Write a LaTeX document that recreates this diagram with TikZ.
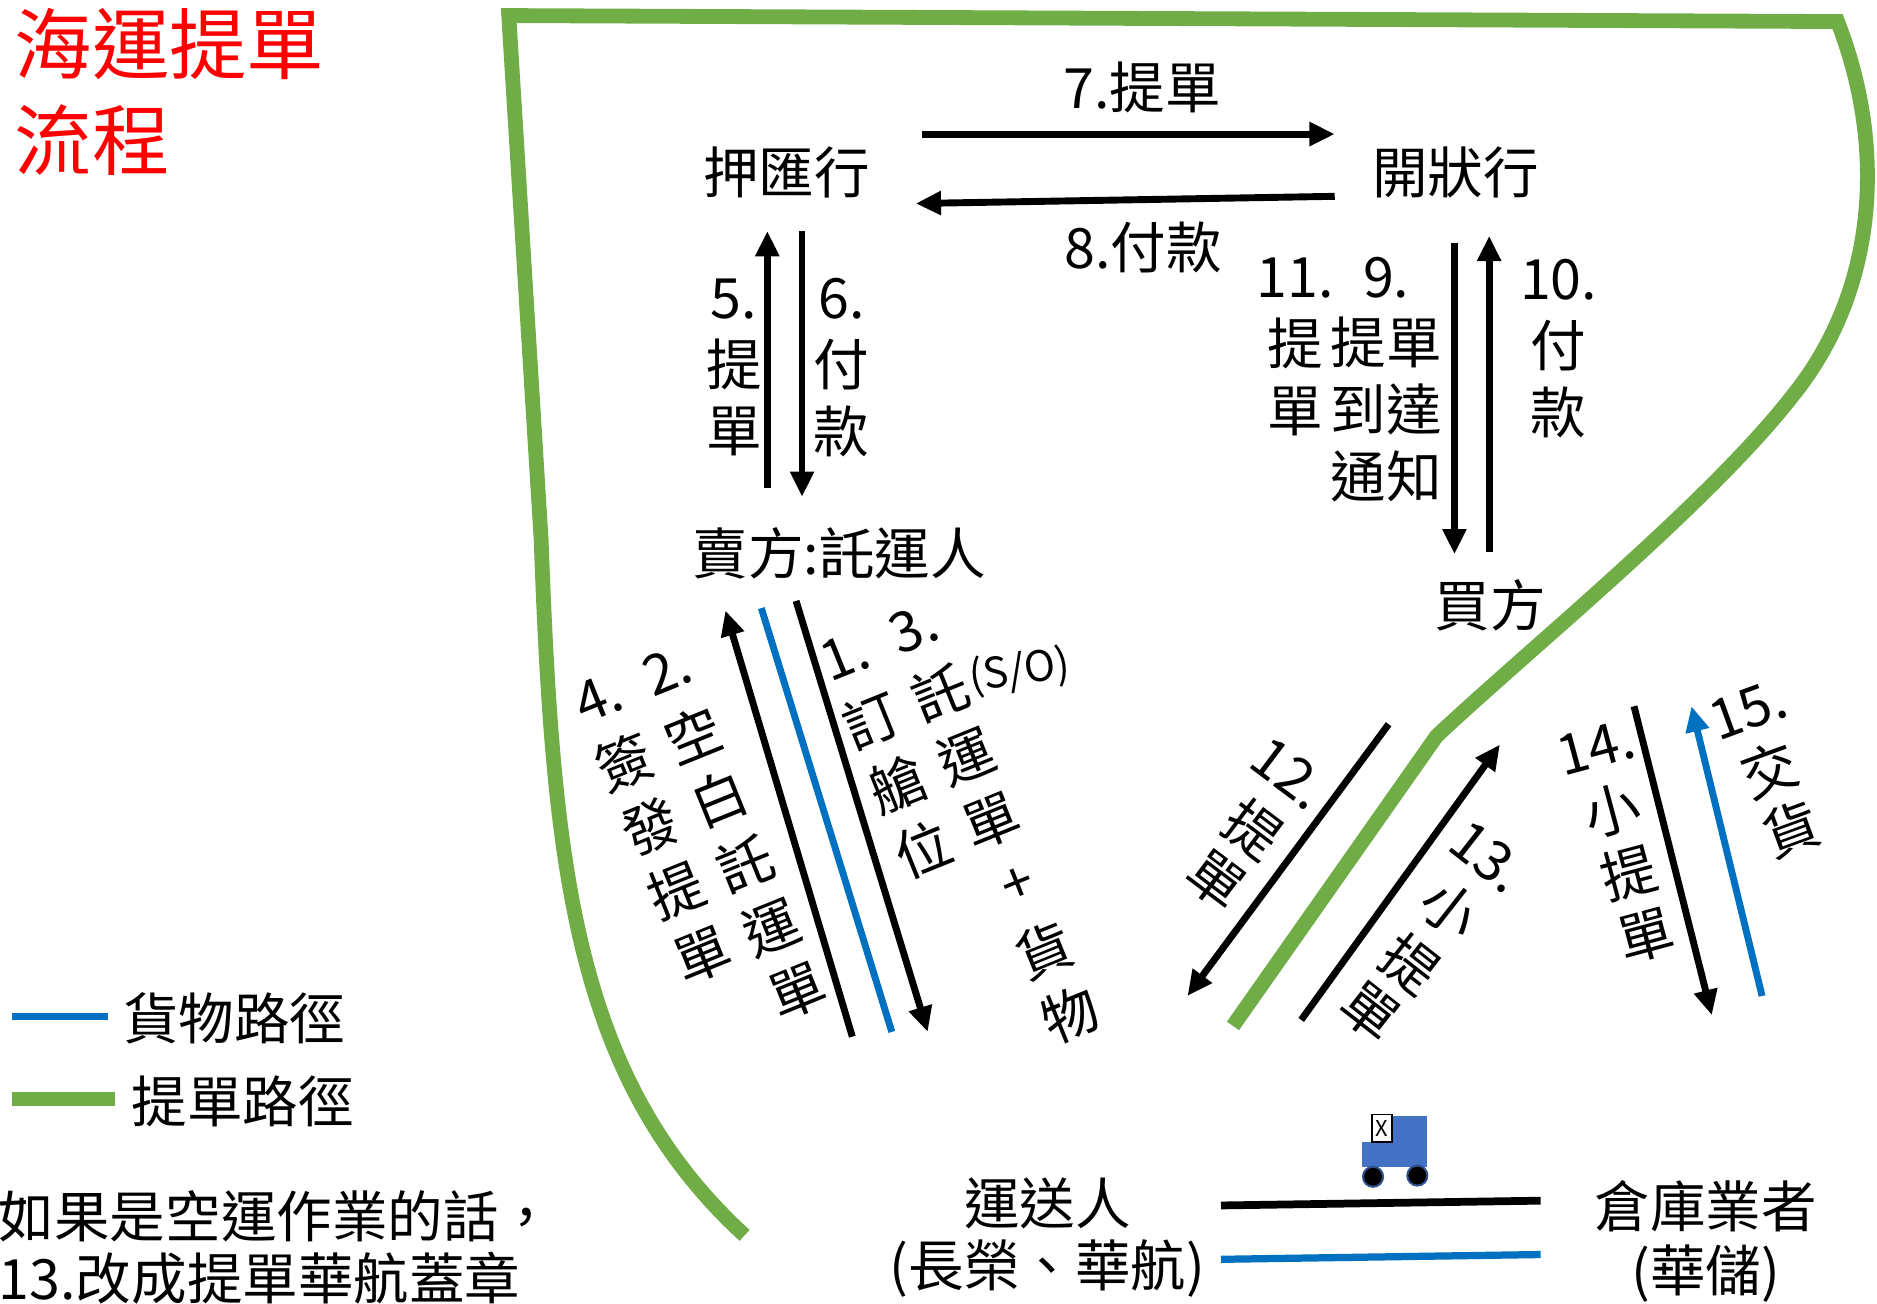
\documentclass[tikz,border=0pt]{standalone}
\usepackage{fontspec}
\setmainfont{Noto Sans CJK TC}
\usetikzlibrary{arrows.meta}
\definecolor{cblue}{HTML}{0070C0}
\definecolor{cgreen}{HTML}{70AD47}
\definecolor{ctruck}{HTML}{4472C4}
\definecolor{cwheel}{HTML}{2F528F}
\begin{document}
\begin{tikzpicture}[x=0.025cm,y=-0.025cm,
  txt/.style={font=\fontsize{33}{39.7}\selectfont, inner sep=0pt, outer sep=0pt, align=center},
  ttl/.style={font=\fontsize{46}{56}\selectfont, text=red, inner sep=0pt, anchor=west},
  arr/.style={line width=4.1pt, -{Triangle[length=15pt,width=13.5pt]}},
  bluearr/.style={cblue, line width=4.1pt, -{Triangle[length=15pt,width=13.5pt]}},
  blueline/.style={cblue, line width=4.1pt},
  greenpath/.style={cgreen, line width=8.8pt},
]
\useasboundingbox (0,0) rectangle (1568,1089.3);
\clip (0,0) rectangle (1568,1089.3);

% title
\node[ttl] (title1) at (12,37) {海運提單};
\node[ttl] (title2) at (12,117) {流程};

% green B/L path
\draw[greenpath] (622,1032) .. controls (478,900) and (462,720) .. (452,450) -- (425,13) -- (1535,18)
  .. controls (1575,120) and (1570,240) .. (1498,330) .. controls (1428,420) and (1280,540) .. (1200,615) -- (1030,857);

% main nodes
\node[txt] (yahui) at (657,144) {押匯行};
\node[txt] (kaizhuang) at (1216,144) {開狀行};
\node[txt] (seller) at (701,462) {賣方:託運人};
\node[txt] (buyer) at (1245,506) {買方};
\node[txt] (l7) at (954,73) {7.提單};
\node[txt] (l8) at (955,207) {8.付款};
\node[txt] (l5) at (613,307) {5.\\提\\單};
\node[txt] (l6) at (703,307) {6.\\付\\款};
\node[txt] (l11) at (1082,290) {11.\\提\\單};
\node[txt] (l9) at (1158,317) {9.\\提單\\到達\\通知};
\node[txt] (l10) at (1302,291) {10.\\付\\款};

% arrows top
\coordinate (a7s) at (770,112); \coordinate (a7e) at (1115,112);
\draw[arr] (a7s) -- (a7e);
\coordinate (a8s) at (1115,164); \coordinate (a8e) at (765,170);
\draw[arr] (a8s) -- (a8e);
\coordinate (a5s) at (641,408); \coordinate (a5e) at (641,193);
\draw[arr] (a5s) -- (a5e);
\coordinate (a6s) at (670,193); \coordinate (a6e) at (670,415);
\draw[arr] (a6s) -- (a6e);
\coordinate (a11s) at (1215,203); \coordinate (a11e) at (1215,463);
\draw[arr] (a11s) -- (a11e);
\coordinate (a10s) at (1244,461); \coordinate (a10e) at (1244,197);
\draw[arr] (a10s) -- (a10e);

% seller <-> carrier
\coordinate (a4s) at (712,866); \coordinate (a4e) at (606,510);
\draw[arr] (a4s) -- (a4e);
\coordinate (g2s) at (636,508); \coordinate (g2e) at (745,862);
\draw[blueline] (g2s) -- (g2e);
\coordinate (a1s) at (665,502); \coordinate (a1e) at (775,862);
\draw[arr] (a1s) -- (a1e);

% buyer side
\coordinate (a12s) at (1160,605); \coordinate (a12e) at (992,832);
\draw[arr] (a12s) -- (a12e);
\coordinate (a13s) at (1087,852); \coordinate (a13e) at (1253,622);
\draw[arr] (a13s) -- (a13e);
\coordinate (a14s) at (1365,590); \coordinate (a14e) at (1430,848);
\draw[arr] (a14s) -- (a14e);
\coordinate (a15s) at (1472,832); \coordinate (a15e) at (1413,590);
\draw[bluearr] (a15s) -- (a15e);

% rotated label blocks
\begin{scope}[shift={(500,583)}, rotate=22, transform shape]
\node[txt] (b4a) at (0,0) {4.};
\node[txt] (b4b) at (0,58) {簽};
\node[txt] (b4c) at (0,116) {發};
\node[txt] (b4d) at (0,174) {提};
\node[txt] (b4e) at (0,232) {單};
\node[txt] (b2a) at (62,0) {2.};
\node[txt] (b2b) at (62,58) {空};
\node[txt] (b2c) at (62,116) {白};
\node[txt] (b2d) at (62,174) {託};
\node[txt] (b2e) at (62,232) {運};
\node[txt] (b2f) at (62,290) {單};
\end{scope}
\begin{scope}[shift={(706,548)}, rotate=22, transform shape]
\node[txt] (b1a) at (0,0) {1.};
\node[txt] (b1b) at (0,58) {訂};
\node[txt] (b1c) at (0,116) {艙};
\node[txt] (b1d) at (0,174) {位};
\node[txt] (b3a) at (62,0) {3.};
\node[txt] (b3b) at (62,58) {託};
\node[txt] (b3c) at (62,116) {運};
\node[txt] (b3d) at (62,174) {單};
\node[txt] (b3e) at (62,232) {+};
\node[txt] (b3f) at (62,290) {貨};
\node[txt] (b3g) at (62,348) {物};
\end{scope}
\node[txt, font=\fontsize{25}{30}\selectfont, rotate=8] (so) at (852,561) {(S/O)};

\node[txt, rotate=-37] (b12a) at (1077,646) {12.};
\node[txt, rotate=-37] (b12b) at (1047,693) {提};
\node[txt, rotate=-37] (b12c) at (1016,735) {單};
\node[txt, rotate=-38] (b13a) at (1243,716) {13.};
\node[txt, rotate=-38] (b13b) at (1211,760) {小};
\node[txt, rotate=-38] (b13c) at (1178,805) {提};
\node[txt, rotate=-38] (b13d) at (1144,845) {單};

\begin{scope}[shift={(1333,625)}, rotate=15, transform shape]
\node[txt] (b14a) at (0,0) {14.};
\node[txt] (b14b) at (0,54) {小};
\node[txt] (b14c) at (0,108) {提};
\node[txt] (b14d) at (0,162) {單};
\end{scope}
\begin{scope}[shift={(1460,593)}, rotate=20, transform shape]
\node[txt] (b15a) at (0,0) {15.};
\node[txt] (b15b) at (0,53) {交};
\node[txt] (b15c) at (0,106) {貨};
\end{scope}

% legend
\coordinate (lgb1) at (10,849); \coordinate (lgb2) at (90,849);
\draw[cblue, line width=4.3pt] (lgb1) -- (lgb2);
\node[txt, anchor=west] (lgbt) at (103,851) {貨物路徑};
\coordinate (lgg1) at (10,918); \coordinate (lgg2) at (96,918);
\draw[cgreen, line width=8.8pt] (lgg1) -- (lgg2);
\node[txt, anchor=west] (lggt) at (110,920) {提單路徑};

% note
\node[txt, anchor=west] (note1) at (-1,1016) {如果是空運作業的話，};
\node[txt, anchor=west] (note2) at (-1,1068) {13.改成提單華航蓋章};

% bottom parties
\node[txt] (carrier) at (875,1005) {運送人};
\node[txt] (carrier2) at (875,1060) {(長榮、華航)};
\node[txt] (wh) at (1425,1008) {倉庫業者};
\node[txt] (wh2) at (1425,1064) {(華儲)};
\coordinate (bl1) at (1020,1007); \coordinate (bl2) at (1287,1003);
\draw[line width=4.6pt] (bl1) -- (bl2);
\coordinate (bb1) at (1020,1052); \coordinate (bb2) at (1287,1048);
\draw[cblue, line width=4.3pt] (bb1) -- (bb2);

% truck
\fill[ctruck] (1138,954) rectangle (1192,975);
\fill[ctruck] (1163,932) rectangle (1192,954);
\node[draw, fill=white, line width=1pt, minimum width=0.42cm, minimum height=0.57cm, inner sep=0pt, font=\fontsize{13}{13}\selectfont] (xbox) at (1154.5,942.5) {X};
\filldraw[fill=black, draw=cwheel, line width=1.2pt] (1147,983) circle[radius=0.21cm];
\filldraw[fill=black, draw=cwheel, line width=1.2pt] (1184,982) circle[radius=0.21cm];
\end{tikzpicture}
\end{document}
